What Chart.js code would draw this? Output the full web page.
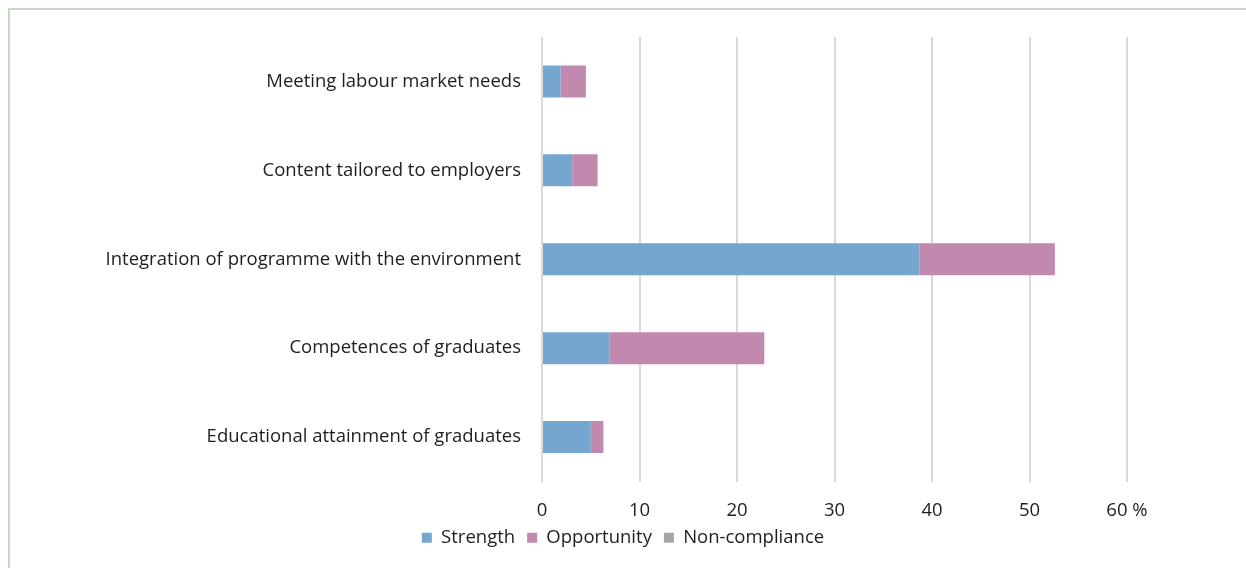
<!DOCTYPE html>
<html>
<head>
<meta charset="utf-8">
<script src="https://cdn.jsdelivr.net/npm/chart.js@4"></script>
<style>
  html, body { margin: 0; padding: 0; background: #fff; }
  #wrap { position: relative; width: 1246px; height: 568px; overflow: hidden; }
  #frame { position: absolute; left: 8px; top: 8px; width: 1300px; height: 600px;
           border-top: 2px solid #c3dcbd; border-left: 2px solid #c3dcbd; }
  canvas { position: absolute; left: 0; top: 0; }
</style>
</head>
<body>
<div id="wrap">
  <div id="frame"></div>
  <canvas id="chart" width="1246" height="568"></canvas>
</div>
<script>
const categories = [
  'Meeting labour market needs',
  'Content tailored to employers',
  'Integration of programme with the environment',
  'Competences of graduates',
  'Educational attainment of graduates'
];
const strength = [1.9, 3.1, 38.7, 6.9, 5.0];
const opportunity = [2.6, 2.6, 13.9, 15.9, 1.3];
const nonCompliance = [0, 0, 0, 0, 0];
const xTicks = [0, 10, 20, 30, 40, 50, 60];

const font = { family: '"Open Sans", sans-serif', size: 18.5 };

// centre the legend on the whole canvas instead of the padded layout box
const centreLegend = {
  id: 'centreLegend',
  afterLayout(chart) {
    const lg = chart.legend;
    const shift = chart.width / 2 - (lg.left + lg.right) / 2;
    lg.left += shift;
    lg.right += shift;
  }
};

const ctx = document.getElementById('chart').getContext('2d');
new Chart(ctx, {
  type: 'bar',
  data: {
    labels: categories,
    datasets: [
      { label: 'Strength', data: strength, backgroundColor: '#74a6d0' },
      { label: 'Opportunity', data: opportunity, backgroundColor: '#c189ae' },
      { label: 'Non-compliance', data: nonCompliance, backgroundColor: '#a6a6a6' }
    ]
  },
  plugins: [centreLegend],
  options: {
    indexAxis: 'y',
    responsive: false,
    animation: false,
    barPercentage: 0.36,
    categoryPercentage: 1,
    layout: { padding: { top: 37, right: 119, bottom: 11, left: 0 } },
    scales: {
      x: {
        stacked: true,
        min: 0,
        max: 60,
        afterBuildTicks: axis => { axis.ticks = xTicks.map(v => ({ value: v })); },
        // keep the axis band short so the legend sits close under the labels
        afterFit: scale => { scale.height = 35; },
        ticks: {
          color: '#1e1e1e',
          font: font,
          padding: 18,
          callback: v => v === 60 ? '60 %' : v
        },
        grid: { color: '#d9d9d9', lineWidth: 2, drawTicks: false },
        border: { display: false }
      },
      y: {
        stacked: true,
        afterFit: scale => { scale.width = 542; },
        ticks: { color: '#1e1e1e', font: font, padding: 21 },
        grid: { display: false, drawTicks: false },
        border: { display: false }
      }
    },
    plugins: {
      legend: {
        position: 'bottom',
        labels: {
          color: '#1e1e1e',
          font: font,
          boxWidth: 10,
          boxHeight: 10,
          padding: 12
        }
      },
      tooltip: { enabled: false }
    }
  }
});
</script>
</body>
</html>
